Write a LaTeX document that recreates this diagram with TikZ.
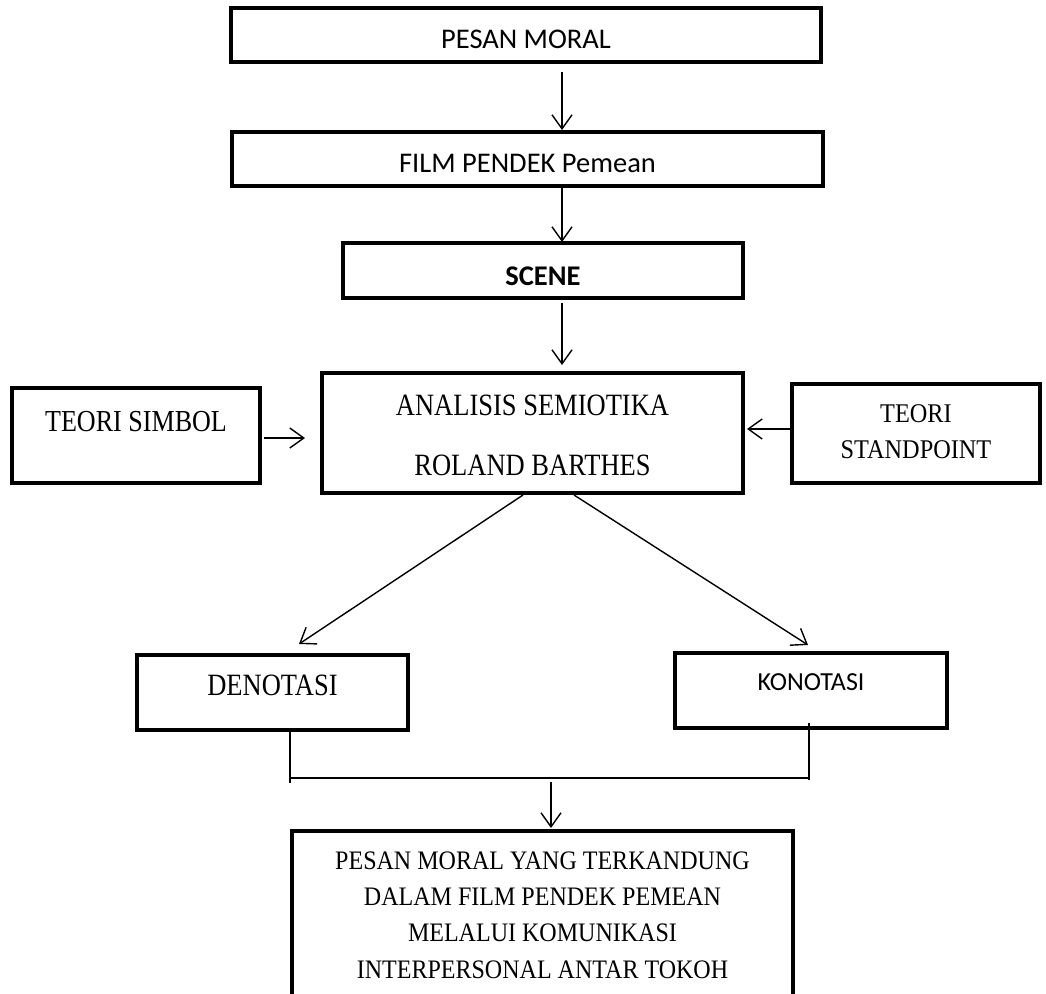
\documentclass[tikz,border=0pt]{standalone}
\usepackage{fontspec}
\newfontfamily\calib{Carlito}
\newfontfamily\camb[FakeStretch=0.855]{Liberation Serif}
\newfontfamily\cambkecil[FakeStretch=0.9]{Liberation Serif}
\usetikzlibrary{arrows.meta}
\tikzset{
  kotak/.style={draw, rectangle, line width=3.4pt, inner sep=0pt, outer sep=0pt},
  >={Straight Barb[length=14pt,width=20pt]},
  panah/.style={->, line width=1.4pt},
  garis/.style={line width=1.4pt},
}

\begin{document}
\begin{tikzpicture}[x=1pt, y=-1pt]
        \useasboundingbox (0,0) rectangle (1046,993);

        \node[kotak, minimum width=590pt, text height=40pt, text depth=14pt, font=\calib\fontsize{28.5}{34}\selectfont] (pesan) at (526,35) {PESAN MORAL};
        \node[kotak, minimum width=591pt, text height=40pt, text depth=14pt, font=\calib\fontsize{28.5}{34}\selectfont] (film) at (527.5,159) {FILM PENDEK Pemean};
        \node[kotak, minimum width=400pt, text height=42pt, text depth=13pt, font=\calib\bfseries\fontsize{28.5}{34}\selectfont] (scene) at (543,270.5) {SCENE};
        \node[kotak, minimum width=421pt, text height=102pt, text depth=18pt, align=center, font=\camb\fontsize{31}{60}\selectfont] (analisis) at (532.5,433) {ANALISIS SEMIOTIKA\\ROLAND BARTHES};
        \node[kotak, minimum width=248pt, text height=43pt, text depth=52pt, font=\camb\fontsize{30.5}{34}\selectfont] (simbol) at (136,435.5) {TEORI SIMBOL};
        \node[kotak, minimum width=248pt, text height=74pt, text depth=25pt, align=center, font=\cambkecil\fontsize{27}{36}\selectfont] (standpoint) at (916,433.5) {TEORI\\STANDPOINT};
        \node[kotak, minimum width=271pt, text height=40pt, text depth=35pt, font=\camb\fontsize{31}{34}\selectfont] (deno) at (272.5,692.5) {DENOTASI};
        \node[kotak, minimum width=272pt, text height=37pt, text depth=38pt, font=\calib\fontsize{26}{32}\selectfont] (kono) at (811,690.5) {KONOTASI};
        \node[kotak, minimum width=501pt, text height=147pt, text depth=32pt, align=center, font=\cambkecil\fontsize{26.7}{36.3}\selectfont] (hasil) at (542.5,920.5) {PESAN MORAL YANG TERKANDUNG\\DALAM FILM PENDEK PEMEAN\\MELALUI KOMUNIKASI\\INTERPERSONAL ANTAR TOKOH};

        \coordinate (tengah) at (562,0);
        \coordinate (kiri) at (290,778);
        \coordinate (kanan) at (809,778);
        \coordinate (bawah) at (551,782);

        \draw[panah] ([yshift=-10pt]pesan.south -| tengah) -- ([yshift=2pt]film.north -| tengah);
        \draw[panah] ([yshift=-1pt]film.south -| tengah) -- ([yshift=1pt]scene.north -| tengah);
        \draw[panah] ([yshift=-5pt]scene.south -| tengah) -- ([yshift=8pt]analisis.north -| tengah);
        \draw[panah] ([xshift=4pt,yshift=-2.5pt]simbol.east) -- ([xshift=-17pt,yshift=-5pt]analisis.west);
        \draw[panah] ([yshift=4.5pt]standpoint.west) -- ([xshift=4pt,yshift=4pt]analisis.east);
        \draw[panah] ([xshift=-9.5pt,yshift=-2pt]analisis.south) -- ([xshift=26.5pt,yshift=11pt]deno.north);
        \draw[panah] ([xshift=41.5pt,yshift=-2pt]analisis.south) -- ([xshift=-3pt,yshift=8pt]kono.north);

        \draw[garis] (deno.south -| kiri) -- ([yshift=-5pt]kiri);
        \draw[line width=1.2pt] (kiri) -- (kanan);
        \draw[garis] ([yshift=5pt]kono.south -| kanan) -- ([yshift=-2pt]kanan);
        \draw[panah] (bawah) -- ([yshift=3pt]hasil.north -| bawah);
\end{tikzpicture}
\end{document}
